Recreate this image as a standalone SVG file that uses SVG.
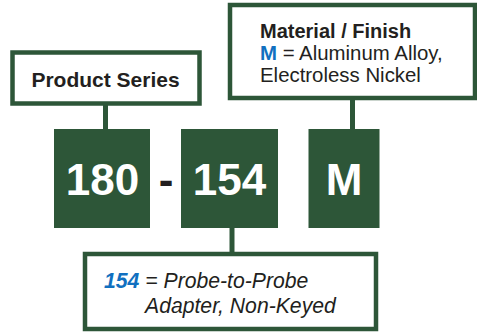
<svg xmlns="http://www.w3.org/2000/svg" width="477" height="333" viewBox="0 0 477 333">
<style>
.box{fill:#fff;stroke:#2d5638;stroke-width:4.5}
.blk{fill:#2d5638}
.ln{stroke:#2d5638;stroke-width:5;fill:none}
.t{font-family:"Liberation Sans",Arial,sans-serif;fill:#231f20}
.num{font-family:"Liberation Sans",Arial,sans-serif;font-weight:bold;font-size:44px;fill:#fff;text-anchor:middle}
.blue{fill:#1170c0}
</style>
<rect width="477" height="333" fill="#fff"/>
<g id="connectors">
<line class="ln" x1="105.5" y1="104" x2="105.5" y2="130"/>
<line class="ln" x1="352.5" y1="98" x2="352.5" y2="130"/>
<line class="ln" x1="232" y1="227" x2="232" y2="254"/>
</g>
<g id="product-series">
<rect class="box" x="12.5" y="52.5" width="187" height="51"/>
<text class="t" x="105.5" y="87" font-size="21" font-weight="bold" text-anchor="middle">Product Series</text>
</g>
<g id="material-finish">
<rect class="box" x="230" y="5" width="245" height="93"/>
<text class="t" x="260" y="37.6" font-size="20" font-weight="bold">Material / Finish</text>
<text class="t" x="260" y="60" font-size="20.4"><tspan class="blue" font-weight="bold">M</tspan> = Aluminum Alloy,</text>
<text class="t" x="260" y="82.4" font-size="20.4">Electroless Nickel</text>
</g>
<g id="code-180">
<rect class="blk" x="54" y="129" width="96" height="99"/>
<text class="num" x="102.5" y="195">180</text>
</g>
<g id="dash">
<text class="t" x="166" y="195" font-size="44" font-weight="bold" text-anchor="middle">-</text>
</g>
<g id="code-154">
<rect class="blk" x="181" y="129" width="97" height="99"/>
<text class="num" x="229.5" y="195">154</text>
</g>
<g id="code-M">
<rect class="blk" x="308.5" y="129" width="71" height="99"/>
<text class="num" x="344" y="195">M</text>
</g>
<g id="adapter">
<rect class="box" x="85" y="254" width="291" height="75"/>
<text class="t" x="104" y="288" font-size="21.2" font-style="italic"><tspan class="blue" font-weight="bold">154</tspan> = Probe-to-Probe</text>
<text class="t" x="145" y="313" font-size="21.2" font-style="italic">Adapter, Non-Keyed</text>
</g>
</svg>
